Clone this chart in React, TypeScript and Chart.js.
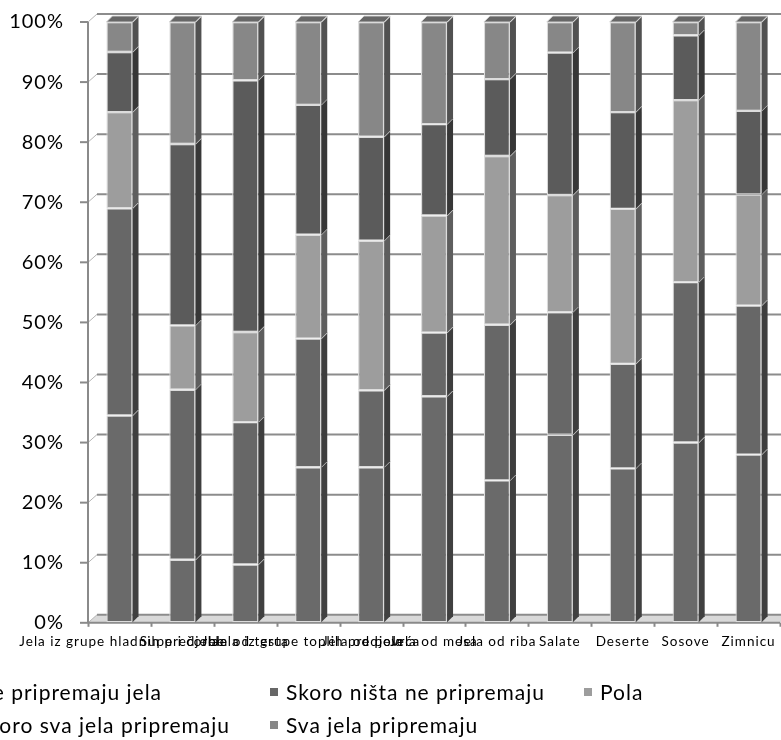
import { useEffect, useRef } from "react";
import { Chart, registerables } from "chart.js";

Chart.register(...registerables);

// Categories (dish groups) along the x axis
const categories = [
  "Jela iz grupe hladnih predjela",
  "Supe i čorbe",
  "Jela od testa",
  "Jela iz grupe toplih predjela",
  "Jela od povrća",
  "Jela od mesa",
  "Jela od riba",
  "Salate",
  "Deserte",
  "Sosove",
  "Zimnicu",
];

// Share of respondents per answer (percent, stacked to 100)
const nePripremaju = [34.5, 10.5, 9.7, 25.9, 25.9, 37.7, 23.7, 31.3, 25.7, 30, 28];
const skoroNista = [34.5, 28.3, 23.7, 21.4, 12.8, 10.6, 25.9, 20.4, 17.4, 26.7, 24.8];
const pola = [16, 10.7, 15, 17.3, 24.9, 19.5, 28.1, 19.5, 25.8, 30.3, 18.5];
const skoroSva = [10, 30.2, 41.9, 21.6, 17.3, 15.2, 12.8, 23.7, 16.1, 10.8, 13.9];
const sva = [5, 20.3, 9.7, 13.8, 19.1, 17, 9.5, 5.1, 15, 2.2, 14.8];

const seriesNames = [
  "Ne pripremaju jela",
  "Skoro ništa ne pripremaju",
  "Pola",
  "Skoro sva jela pripremaju",
  "Sva jela pripremaju",
];
const seriesValues = [nePripremaju, skoroNista, pola, skoroSva, sva];
const seriesColors = ["#6a6a6a", "#676767", "#9d9d9d", "#5b5b5b", "#878787"];

const yTickValues = [0, 10, 20, 30, 40, 50, 60, 70, 80, 90, 100];

// depth of the bar boxes and of the back wall
const BAR_DX = 6;
const BAR_DY = 6;
const WALL_DX = 9;
const WALL_DY = 8;

const FONT = "Lato, 'Open Sans', sans-serif";

function shade(hex: string, f: number): string {
  const n = parseInt(hex.slice(1), 16);
  const r = Math.round(((n >> 16) & 255) * f);
  const g = Math.round(((n >> 8) & 255) * f);
  const b = Math.round((n & 255) * f);
  return `rgb(${r},${g},${b})`;
}

// back wall, floor, front axis lines, bar depth faces and the legend grid
const wallsPlugin = {
  id: "walls",
  beforeDraw(chart: any) {
    chart.ctx.letterSpacing = "1px";
  },
  beforeDatasetsDraw(chart: any) {
    const { ctx, chartArea: a, scales } = chart;
    const y = scales.y;
    ctx.save();
    ctx.letterSpacing = "0px";

    // floor
    const y0 = y.getPixelForValue(0);
    ctx.fillStyle = "#d9d9d9";
    ctx.beginPath();
    ctx.moveTo(a.left, y0);
    ctx.lineTo(a.left + WALL_DX, y0 - WALL_DY);
    ctx.lineTo(chart.width, y0 - WALL_DY);
    ctx.lineTo(chart.width, y0);
    ctx.closePath();
    ctx.fill();

    // gridlines on the back wall
    ctx.strokeStyle = "#8c8c8c";
    ctx.lineWidth = 2;
    for (const v of yTickValues) {
      const py = y.getPixelForValue(v) - WALL_DY;
      ctx.beginPath();
      ctx.moveTo(a.left + WALL_DX, py);
      ctx.lineTo(chart.width, py);
      ctx.stroke();
    }

    // left wall connectors
    ctx.strokeStyle = "#b5b5b5";
    ctx.lineWidth = 1;
    for (const v of yTickValues) {
      const py = y.getPixelForValue(v);
      ctx.beginPath();
      ctx.moveTo(a.left, py);
      ctx.lineTo(a.left + WALL_DX, py - WALL_DY);
      ctx.stroke();
    }

    // front y axis line and tick marks
    ctx.strokeStyle = "#8a8a8a";
    ctx.lineWidth = 2;
    ctx.beginPath();
    ctx.moveTo(a.left, y.getPixelForValue(100));
    ctx.lineTo(a.left, y0);
    ctx.stroke();
    for (const v of yTickValues) {
      const py = y.getPixelForValue(v);
      ctx.beginPath();
      ctx.moveTo(a.left - 8, py);
      ctx.lineTo(a.left, py);
      ctx.stroke();
    }

    // front x axis line and category tick marks
    ctx.beginPath();
    ctx.moveTo(a.left, y0);
    ctx.lineTo(a.right, y0);
    ctx.stroke();
    const n = categories.length;
    const step = (a.right - a.left) / n;
    for (let i = 0; i <= n; i++) {
      const px = Math.round(a.left + i * step) + 0.5;
      ctx.beginPath();
      ctx.moveTo(px, y0);
      ctx.lineTo(px, y0 + 4);
      ctx.stroke();
    }
    ctx.restore();
  },
  afterDatasetsDraw(chart: any) {
    const { ctx } = chart;
    ctx.save();
    const nSeries = chart.data.datasets.length;
    for (let i = 0; i < categories.length; i++) {
      let topIdx = -1;
      for (let d = 0; d < nSeries; d++) {
        if (seriesValues[d][i] > 0) topIdx = d;
      }
      for (let d = 0; d < nSeries; d++) {
        const el = chart.getDatasetMeta(d).data[i];
        if (!el) continue;
        const { x, y, base, width } = el.getProps(["x", "y", "base", "width"], true);
        const left = x - width / 2;
        const right = x + width / 2;
        const col = seriesColors[d];
        // right side face
        ctx.fillStyle = shade(col, 0.6);
        ctx.beginPath();
        ctx.moveTo(right, y);
        ctx.lineTo(right + BAR_DX, y - BAR_DY);
        ctx.lineTo(right + BAR_DX, base - BAR_DY);
        ctx.lineTo(right, base);
        ctx.closePath();
        ctx.fill();
        ctx.strokeStyle = "rgba(225,225,225,0.9)";
        ctx.lineWidth = 1.2;
        ctx.beginPath();
        ctx.moveTo(right, y);
        ctx.lineTo(right + BAR_DX, y - BAR_DY);
        ctx.stroke();
        // top face
        if (d === topIdx) {
          ctx.fillStyle = shade(col, 0.76);
          ctx.beginPath();
          ctx.moveTo(left, y);
          ctx.lineTo(left + BAR_DX, y - BAR_DY);
          ctx.lineTo(right + BAR_DX, y - BAR_DY);
          ctx.lineTo(right, y);
          ctx.closePath();
          ctx.fill();
          ctx.strokeStyle = "rgba(215,215,215,0.9)";
          ctx.lineWidth = 1;
          ctx.stroke();
        }
      }
    }
    ctx.restore();
  },
  afterDraw(chart: any) {
    const { ctx, height } = chart;
    ctx.save();
    ctx.letterSpacing = "1px";
    ctx.font = `21px ${FONT}`;
    ctx.textBaseline = "middle";
    ctx.textAlign = "left";
    const cols = [-24, 286, 600];
    const rows = [height - 48, height - 15];
    const slots = [
      [0, 0],
      [1, 0],
      [2, 0],
      [0, 1],
      [1, 1],
    ];
    seriesNames.forEach((name, k) => {
      const tx = cols[slots[k][0]];
      const ty = rows[slots[k][1]];
      ctx.fillStyle = seriesColors[k];
      ctx.fillRect(tx - 16, ty - 4, 8, 8);
      ctx.fillStyle = "#000";
      ctx.fillText(name, tx, ty + 1);
    });
    ctx.restore();
    ctx.letterSpacing = "0px";
  },
};

export default function App() {
  const canvasRef = useRef<HTMLCanvasElement | null>(null);

  useEffect(() => {
    document.body.style.margin = "0";
    const canvas = canvasRef.current;
    if (!canvas) return;
    const chart = new Chart(canvas, {
      type: "bar",
      data: {
        labels: categories,
        datasets: seriesNames.map((name, k) => ({
          label: name,
          data: seriesValues[k],
          backgroundColor: seriesColors[k],
          borderColor: "#dcdcdc",
          borderWidth: 1.2,
          borderSkipped: false,
          barPercentage: 0.415,
          categoryPercentage: 1,
        })),
      },
      options: {
        responsive: false,
        animation: false,
        layout: { padding: { top: 22, right: 1, bottom: 83, left: 0 } },
        plugins: {
          legend: { display: false },
          tooltip: { enabled: false },
        },
        scales: {
          x: {
            stacked: true,
            offset: true,
            grid: {
              display: true,
              drawOnChartArea: false,
              color: "rgba(0,0,0,0)",
              tickLength: 4,
            },
            border: { display: false },
            ticks: {
              autoSkip: false,
              maxRotation: 0,
              minRotation: 0,
              padding: 7,
              color: "#000",
              font: { family: FONT, size: 13.5 },
            },
          },
          y: {
            stacked: true,
            min: 0,
            max: 100,
            afterFit: (scale: any) => {
              scale.width = 88;
            },
            afterBuildTicks: (scale: any) => {
              scale.ticks = yTickValues.map((v) => ({ value: v }));
            },
            grid: {
              display: true,
              drawOnChartArea: false,
              color: "rgba(0,0,0,0)",
              tickLength: 22,
            },
            border: { display: false },
            ticks: {
              padding: 2,
              color: "#000",
              font: { family: FONT, size: 20 },
              callback: (v: any) => `${v}%`,
            },
          },
        },
      },
      plugins: [wallsPlugin],
    });
    return () => chart.destroy();
  }, []);

  return (
    <div style={{ position: "fixed", left: 0, top: 0, width: 781, height: 740, background: "#fff" }}>
      <canvas ref={canvasRef} width={781} height={740} style={{ display: "block" }} />
    </div>
  );
}
